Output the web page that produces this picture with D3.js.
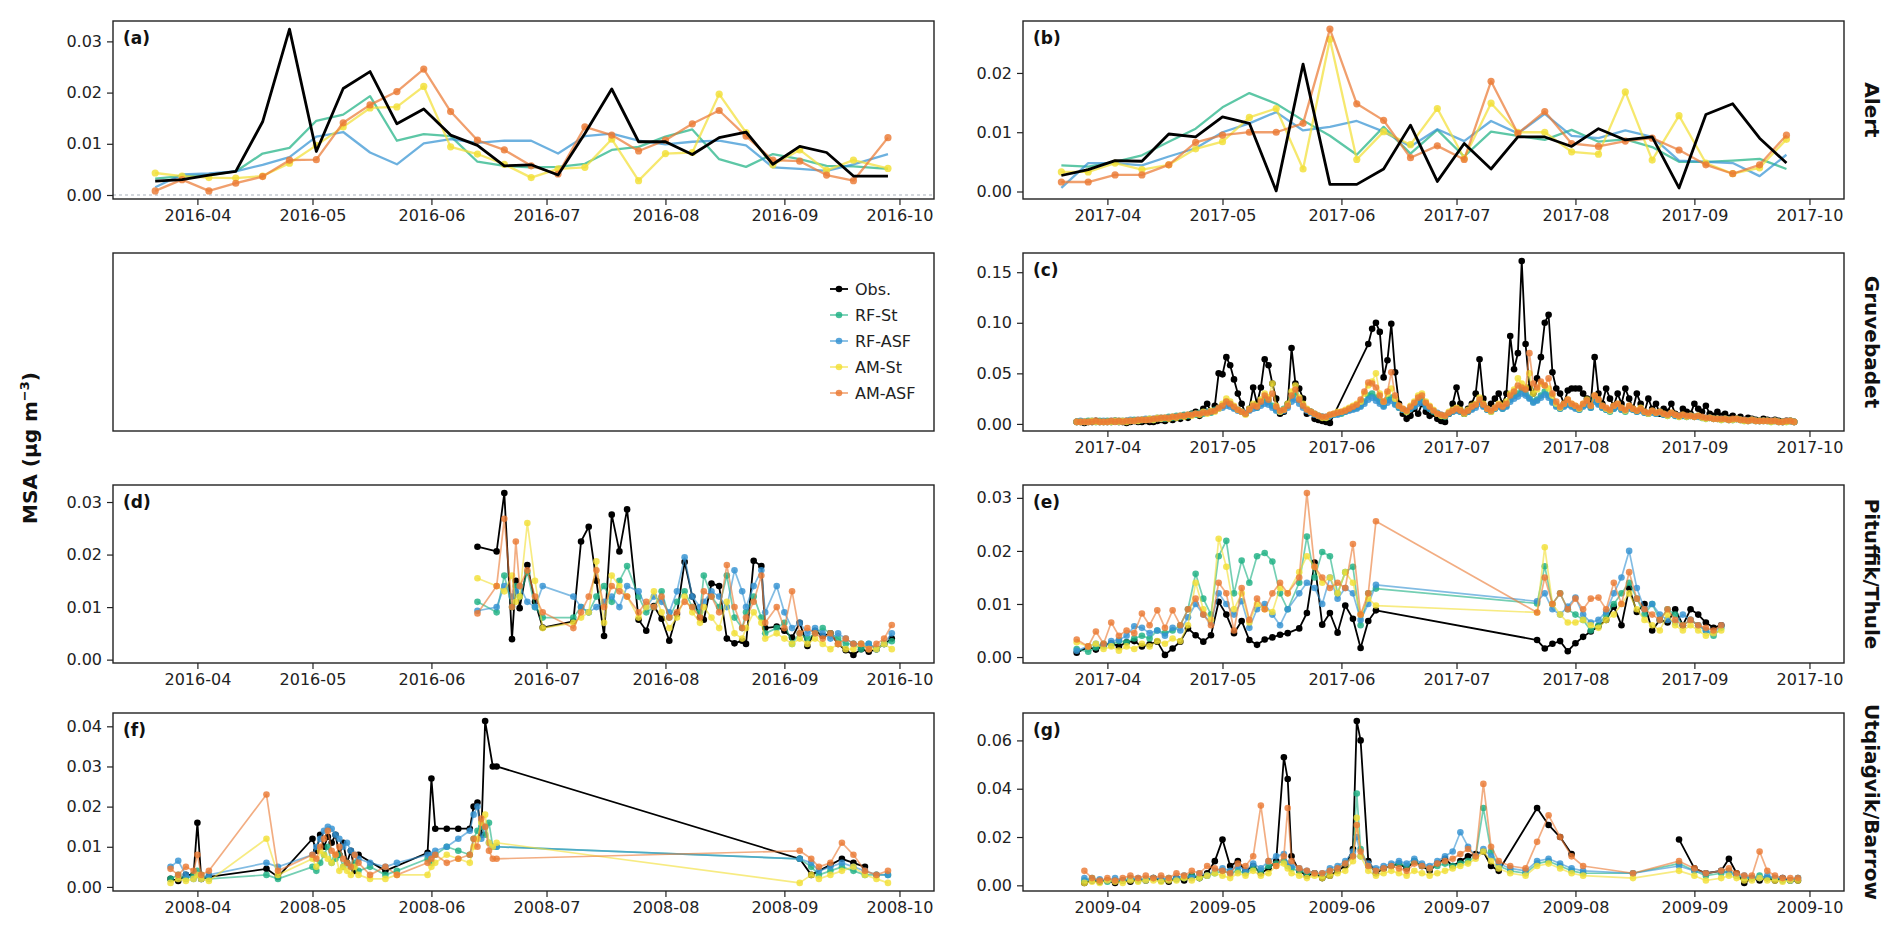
<!DOCTYPE html>
<html>
<head>
<meta charset="utf-8">
<script src="https://cdn.jsdelivr.net/npm/d3@7"></script>
<style>
  body { margin: 0; background: #fff; }
  text { font-family: "DejaVu Sans", sans-serif; }
</style>
</head>
<body>
<svg id="fig" width="1892" height="940"></svg>
<script>
// all concentrations below are in ng m-3 (1e-3 µg m-3)
const _ = null;    // no sample: dropped, neighbours are joined
const BRK = NaN;   // no sample: line is broken here

const seriesNames = ["Obs.", "RF-St", "RF-ASF", "AM-St", "AM-ASF"];
const seriesColors = ["#000000", "#1fb184", "#3593d2", "#f2df36", "#ea7a35"];
const monthTicks = [4, 5, 6, 7, 8, 9, 10];
const rowLabels = ["Alert", "Gruvebadet", "Pituffik/Thule", "Utqiaġvik/Barrow"];

// ---- (a) Alert 2016, weekly
const aDates = ["03-21","03-28","04-04","04-11","04-18","04-25","05-02","05-09","05-16","05-23",
  "05-30","06-06","06-13","06-20","06-27","07-04","07-11","07-18","07-25","08-01",
  "08-08","08-15","08-22","08-29","09-05","09-12","09-19","09-28"];
const aObs   = [2.7,3.0,3.9,4.6,14.3,32.4,8.5,20.8,24.1,13.9, 16.8,11.7,9.7,5.7,5.9,3.9,12.0,20.7,10.4,10.4, 7.9,11.2,12.3,6.0,9.5,8.3,3.7,3.7];
const aRFSt  = [3.2,3.7,3.9,4.6,8.1,9.2,14.5,15.7,19.3,10.6, 11.9,11.5,6.5,5.7,5.4,5.5,6.1,8.8,9.4,11.4, 12.8,7.0,5.5,8.0,7.0,5.7,5.6,5.1];
const aRFASF = [1.5,4.0,4.2,4.6,5.9,7.4,11.4,12.3,8.3,6.0, 10.1,10.9,10.2,10.6,10.6,8.1,11.5,12.0,10.6,9.9, 10.4,10.6,9.7,5.4,5.1,4.7,6.0,8.0];
const aAMSt  = [4.3,3.7,3.4,3.3,3.7,6.2,9.7,13.3,17.0,17.2, 21.2,9.4,8.0,6.0,3.4,5.1,5.4,10.9,2.8,8.1, 8.3,19.7,12.2,5.9,8.8,4.8,6.8,5.2];
const aAMASF = [0.8,3.0,0.8,2.3,3.6,6.8,6.9,14.1,17.6,20.2, 24.6,16.3,10.7,8.8,5.7,4.1,13.3,11.7,8.6,10.7, 13.9,16.5,11.5,6.8,6.6,3.9,2.8,11.2];

// ---- (b) Alert 2017, weekly
const bDates = ["03-20","03-27","04-03","04-10","04-17","04-24","05-01","05-08","05-15","05-22",
  "05-29","06-05","06-12","06-19","06-26","07-03","07-10","07-17","07-24","07-31",
  "08-07","08-14","08-21","08-28","09-04","09-11","09-18","09-25"];
const bObs   = [2.7,3.7,5.2,5.1,9.7,9.2,12.6,11.5,0.1,21.5, 1.2,1.2,3.8,11.2,1.7,8.1,3.8,9.2,9.2,7.6, 10.6,8.7,9.2,0.6,13.0,14.8,9.0,4.8];
const bRFSt  = [4.4,4.2,5.0,6.1,8.4,10.6,14.2,16.6,14.8,12.0, 9.4,6.2,10.9,6.4,10.4,5.9,10.1,9.4,8.7,10.4, 8.4,8.8,7.5,5.0,5.0,5.2,5.5,3.8];
const bRFASF = [0.6,4.8,4.8,4.4,5.9,7.3,10.0,11.5,13.4,10.3, 10.9,11.9,10.1,7.6,10.5,8.5,11.9,9.8,13.1,9.4, 9.0,10.3,9.2,5.2,5.0,4.8,2.6,6.2];
const bAMSt  = [3.3,3.3,4.8,3.7,4.5,7.2,8.4,12.5,14.0,3.8, 25.7,5.4,10.1,7.9,14.0,5.6,14.9,10.0,10.0,6.7, 6.3,16.8,5.3,12.8,4.8,3.0,4.0,8.8];
const bAMASF = [1.6,1.6,2.8,2.8,4.5,8.3,9.5,10.0,10.0,11.5, 27.4,14.8,12.0,5.7,7.7,5.4,18.6,9.8,13.5,8.1, 7.6,8.5,9.0,7.0,4.5,3.0,4.5,9.5];

// ---- (c) Gruvebadet 2017, daily from 03-24 to 09-27
const cFirstDay = "2017-03-24";
const cObs = [
  2,2,1,2,2,3,2,2,
  2,2,3,2,2,1,2,3,2,2, 3,2,2,3,4,3,5,4,6,5, 8,6,10,12,8,15,20,12,18,50,
  49,66,58,44,30,20,10,15,36,20, 36,64,58,40,25,10,12,20,75,40, 35,25,10,12,5,4,3,2,1,_,_,
  _,_,_,_,_,_,_,79,94,100, 91,46,63,99,51,20,10,5,8,15, 10,20,12,8,10,5,3,2,10,20,
  36,20,10,15,20,30,64,25,15,20, 25,30,20,30,87,54,70,161,79,36, 30,45,66,100,108,51,35,30,20,33, 35,
  35,35,30,25,20,66,30,20,35,25, 18,30,20,35,25,15,30,20,12,25, 15,20,10,15,12,20,10,8,15,12, 10,
  20,15,12,18,10,8,12,8,10,6, 8,5,7,4,6,5,4,3,5,4, 3,4,3,2,3,3,2];
const cRFSt = [
  2,2,2,3,2,2,3,2,
  3,2,3,3,2,3,3,4,3,4, 4,5,4,5,6,5,7,6,8,7, 9,8,10,9,11,10,12,11,14,16,
  18,22,20,16,14,12,10,14,18,16, 20,24,22,18,14,12,15,18,26,30, 24,18,14,12,10,8,7,6,8,9,10,
  10,12,14,15,16,18,22,28,30,26, 22,18,24,26,20,16,14,12,15,18, 22,24,18,15,12,10,8,7,10,12,
  14,12,10,12,15,18,22,18,14,12, 15,18,15,18,24,28,30,34,30,26, 22,24,28,32,28,22,18,15,18,20, 18,
  16,14,18,20,16,24,20,16,14,12, 15,18,14,12,16,14,12,14,11,10, 12,10,12,9,8,10,8,7,8,7, 8,
  7,8,6,5,6,5,5,4,5,4, 4,5,4,3,3,4,3,3,3,3, 2,3,2,2,2,3,2];
const cRFASF = [
  2,3,2,2,3,2,2,3,
  2,3,3,2,3,3,4,3,4,4, 5,4,5,6,5,6,6,7,7,8, 8,9,9,10,10,11,12,12,13,15,
  16,18,17,15,13,12,11,13,15,16, 18,20,19,16,13,12,13,16,22,24, 20,16,13,11,9,8,7,7,8,9,9,
  11,12,13,14,15,17,20,24,26,23, 20,17,21,23,19,16,14,13,15,17, 20,21,17,15,13,11,9,8,10,12,
  13,12,11,12,14,16,20,17,14,13, 15,17,15,17,22,25,27,30,28,25, 21,23,26,29,26,21,17,15,17,19, 17,
  15,14,17,19,16,22,19,16,14,13, 15,17,14,13,15,14,12,13,11,10, 11,10,11,9,9,10,8,8,8,7, 8,
  7,7,6,6,6,5,5,5,5,4, 4,5,4,4,3,4,3,3,3,3, 3,3,2,2,3,3,2];
const cAMSt = [
  2,2,2,2,3,2,2,2,
  2,2,3,2,3,2,3,3,3,4, 4,5,4,6,5,6,5,7,6,8, 7,9,8,10,9,12,10,13,12,15,
  20,25,22,18,14,12,9,15,20,18, 24,30,26,40,18,12,14,20,32,38, 26,20,15,12,10,8,6,6,9,10,12,
  12,14,16,18,20,22,30,38,42,50, 30,22,30,35,25,18,15,12,18,22, 28,30,22,18,14,10,8,8,12,14,
  16,14,10,14,18,20,26,20,15,12, 16,20,18,22,30,34,45,40,36,50, 30,34,40,38,35,28,20,16,20,24, 20,
  18,15,20,24,18,28,24,18,15,13, 18,20,16,13,18,15,13,16,12,10, 13,11,12,10,8,11,9,7,9,7, 8,
  7,8,6,5,6,5,5,4,5,4, 4,5,4,3,3,4,3,3,3,3, 2,3,2,2,2,3,2];
const cAMASF = [
  2,2,2,2,2,3,2,2,
  2,3,2,3,2,3,3,3,4,4, 4,4,5,5,6,6,6,7,7,8, 8,9,9,10,10,11,11,12,13,16,
  18,22,20,17,14,12,10,14,18,17, 22,28,24,30,17,13,14,18,28,34, 24,18,14,12,10,8,7,7,9,10,11,
  12,13,15,17,19,24,32,41,40,36, 28,22,32,51,28,18,15,13,17,21, 26,28,21,17,13,10,9,8,11,13,
  15,13,11,13,17,19,24,19,15,13, 16,19,17,20,28,32,38,36,34,70, 40,36,42,38,45,30,22,17,20,24, 20,
  18,16,20,23,18,28,24,18,16,14, 18,20,16,14,18,15,13,15,12,11, 13,11,12,10,9,11,9,8,9,8, 8,
  7,8,7,6,6,5,5,5,5,4, 5,5,4,4,3,4,3,3,3,3, 3,3,2,2,3,3,2];

// ---- (d) Pituffik/Thule 2016
const dDates = ["06-13","06-18","06-20","06-22","06-23","06-24","06-26","06-28","06-30","07-08",
  "07-10","07-12","07-14","07-16","07-18","07-20","07-22","07-25","07-27","07-29",
  "07-31","08-02","08-04","08-06","08-08","08-10","08-11","08-13","08-15","08-17",
  "08-19","08-21","08-22","08-24","08-26","08-27","08-30","09-01","09-03","09-05",
  "09-07","09-09","09-11","09-13","09-15","09-17","09-19","09-21","09-23","09-25",
  "09-27","09-29"];
const dObs   = [21.5,20.6,31.7,3.9,15,9.8,18,11,6.1,7.3, 22.5,25.3,15,4.5,27.6,20.6,28.6,7.6,5.5,10.2,
  7.8,3.6,8.7,18.6,12,8,7.6,14.5,14,4, 3.1,3.6,3,18.8,17.8,6,6.3,5.5,4.2,7, 2.6,5.5,4.5,5,3,1.8,0.9,2,1.5,2, 3,4];
const dRFSt  = [11,9,16,10,14,12,16.6,10,8,8, 10,9,12,14,11,15,17.8,12,9,10,
  13,8,11,13,10,9,16,12,10,16, 8,6,9,12,8,5,6,7,3,5, 4,5,6,5,4,3,3,2,3,2, 3,3.5];
const dRFASF = [9.3,10,14,12,13,14,11,10,14,12, 10,9,10,11,12,10,14,13,10,12,
  11,9,13,19.5,12,10,11,13,12,10, 17,13,10,14,17,9,14,9,6,7, 5,6,5,4,5,4,3,3,3,2, 3,5];
const dAMSt  = [15.5,14,13,16,11,12,26,15,6,7, 8,9,18.7,7,16,14,12,8,10,13,
  9,6,8,12,9,7,10,8,6,11, 5,4,6,9,7,4,5,4,3,4, 3,4,3,2,3,2,2,3,2,2, 3,2];
const dAMASF = [8.8,14,26.8,10,22.5,14,17,12,9,6, 9,12,17,10,14,13,12,9,11,10,
  12,8,9,11,10,8,13,12,9,18, 10,6,8,11,16,7,10,6,13,5, 6,5,4,5,3,4,3,3,2,3, 4,6.6];

// ---- (e) Pituffik/Thule 2017
const eDates = ["03-24","03-27","03-29","03-31","04-02","04-04","04-06","04-08","04-10","04-12",
  "04-14","04-16","04-18","04-20","04-22","04-24","04-26","04-28","04-30","05-02",
  "05-04","05-06","05-08","05-10","05-12","05-14","05-16","05-18","05-21","05-23",
  "05-25","05-27","05-29","05-31","06-02","06-04","06-06","06-08","06-10",
  "07-22","07-24","07-26","07-28","07-30","08-01","08-03","08-05","08-07","08-09",
  "08-11","08-13","08-15","08-17","08-19","08-21","08-23","08-25","08-27","08-29",
  "08-31","09-02","09-04","09-06","09-08"];
const eObs   = [0.8,1.9,1.4,2.2,2.6,2.0,2.8,3.0,2.0,2.4, 2.9,0.4,1.6,2.9,5.4,4.1,2.9,4.1,10.4,8.0,
  4.5,6.8,3.2,2.3,3.3,3.7,4.2,4.5,5.4,8.3, 17.8,6.1,8.3,4.6,9.7,7.2,1.7,6.8,8.8,
  3.2,1.6,2.5,3.0,1.1,2.6,3.8,4.8,5.8,7.0, 9.5,6.0,13.0,8.5,10.0,5.0,7.0,6.5,9.0,6.0, 9.0,8.0,6.5,5.5,6.0];
const eRFSt  = [1.5,1.0,1.8,2.5,2.2,3.0,2.8,3.5,4.0,3.5, 5.0,4.5,5.0,6.0,9.0,15.7,11.0,8.0,19.0,21.9,
  12.0,18.2,14.0,19.0,19.6,18.0,12.0,9.0,14.0,22.7, 15.0,19.8,19.0,12.0,16.0,17.0,6.0,12.0,12.9,
  10.1,17.1,10.0,12.0,9.0,8.0,7.0,5.0,6.0,8.0, 10.0,12.0,14.0,11.0,8.0,10.0,7.0,9.0,8.0,6.0, 7.0,6.0,5.0,4.0,5.5];
const eRFASF = [1.2,2.0,2.5,2.0,3.0,3.2,4.0,5.8,5.5,4.5, 5.0,4.0,5.5,5.0,7.5,10.0,8.0,6.5,12.0,10.0,
  8.0,10.5,5.5,9.0,10.0,8.0,6.0,9.0,12.0,14.0, 13.0,10.0,15.0,11.0,13.0,12.0,7.0,10.0,13.6,
  10.5,12.0,9.0,8.0,9.5,11.2,8.0,6.5,7.0,8.5, 12.0,15.0,20.0,13.0,9.0,10.0,8.0,7.0,6.5,8.0, 7.0,6.0,5.0,4.5,6.0];
const eAMSt  = [2.8,2.0,2.5,1.5,2.0,1.2,2.0,1.5,2.5,2.0, 3.0,2.5,3.5,3.0,6.0,14.0,9.0,7.0,22.3,17.0,
  9.0,12.0,6.5,10.0,9.0,8.5,13.0,12.0,16.0,19.0, 17.0,14.0,15.0,12.0,16.0,14.0,8.0,11.0,9.7,
  8.4,20.7,10.0,8.0,6.5,6.5,7.0,6.0,5.5,7.0, 8.0,10.0,12.0,9.0,7.0,6.0,5.0,8.0,6.0,5.0, 6.0,5.0,4.0,4.5,5.0];
const eAMASF = [3.3,2.0,4.8,2.5,6.5,4.0,5.0,4.5,8.2,6.0, 8.8,5.5,8.8,6.0,9.0,11.0,8.0,6.0,14.0,12.0,
  5.0,13.0,7.0,11.0,9.0,12.0,14.0,12.0,15.0,30.9, 17.0,15.0,13.0,14.0,13.0,21.3,8.0,12.0,25.6,
  8.4,15.0,10.0,12.0,9.0,11.0,9.0,11.0,11.2,9.0, 14.0,10.0,16.0,11.0,9.0,8.0,7.0,9.0,7.0,6.0, 7.0,6.0,5.5,5.0,6.0];

// ---- (f) Utqiagvik/Barrow 2008
const fDates = ["03-25","03-27","03-29","03-31","04-01","04-02","04-04","04-19","04-22","05-01",
  "05-02","05-03","05-04","05-05","05-06","05-07","05-08","05-09","05-10","05-11",
  "05-12","05-13","05-16","05-20","05-23","05-31","06-01","06-02","06-05","06-08",
  "06-11","06-12","06-13","06-14","06-15","06-16","06-17","06-18","09-05","09-08",
  "09-10","09-13","09-16","09-19","09-22","09-25","09-28"];
const fObs   = [2,1.5,3,3,16,2,2.5,4.5,2.5,12, 9,13,10,12.5,11,13,8,11,6,9,
  4,8,_,4,_,8.5,27,14.5,14.5,14.5, 14.5,20,21,13,41.3,_,30,30,7,3, _,5.5,7,6,5,_,_];
const fRFSt  = [2,3,2,3,4,3,2,3,2,5, 4,6,8,10,6,7,8,5,6,5, 6,4,5,3,4,7,6,8,10,9, 8,12,14,15,13,16,10,10,7,5, 3,4,5,4,3,3,3];
const fRFASF = [5,6.5,3,2,3,2,3,6,5,8, 10,12,14,15,14.5,13,12,10,11,9, 8,7,6,5,6,8,8,9,10,12, 14,18,20,12,15,11,10,10,7,6, 4,5,6,5,4,3,3];
const fAMSt  = [1,2,1.5,2,3,2,1.5,12,3,7, 5,9,8,7,6,8,4,5,4,3, 5,3,2,2,3,3,5,6,8,7, 6,10,12,16,18,11,10,11,1,3, 2,3,4,5,3,2,1];
const fAMASF = [4.5,3,5,4,8,3,4,23,4,8, 7,10,12,14,9,8,10,7,6,5, 8,6,3,5,3,6,7,8,6,7, 8,12,10,17,15,9,7,7,9,7, 5,6,11,8,4,3,4];

// ---- (g) Utqiagvik/Barrow 2009
const gDates = ["03-26","03-28","03-30","04-01","04-03","04-05","04-07","04-09","04-11","04-13",
  "04-15","04-17","04-19","04-21","04-23","04-25","04-27","04-29","05-01","05-03",
  "05-05","05-07","05-09","05-11","05-13","05-15","05-17","05-18","05-19","05-21",
  "05-23","05-25","05-27","05-29","05-31","06-02","06-04","06-05","06-06","06-08",
  "06-10","06-12","06-14","06-16","06-18","06-20","06-22","06-24","06-26","06-28",
  "06-30","07-02","07-04","07-06","07-08","07-10","07-12","07-15","07-19","07-22",
  "07-25","07-28","07-31","08-03","08-16","08-28","09-01","09-04","09-08","09-10",
  "09-12","09-14","09-16","09-18","09-20","09-22","09-24","09-26","09-28"];
const gObs   = [1,2,1.5,2,1,2,1.5,2.5,2,3, 2,1.5,3,2,4,3,5,10,19,8, 10,6,8,5,7,10,53,44,12,6,
  4,5,3,4,6,8,15,68,60,10, 5,7,8,9,7,10,8,6,9,11, 8,10,12,13,14,8,6,_,_,32,
  25,20,13,BRK,_,19,7,5,6,11, 5,1,3,2,3,2,3,2,2];
const gRFSt  = [2,3,2,1.5,2,2,3,2,2.5,3, 2,3,2.5,3,4,3,4,5,6,5, 6,5,7,6,8,9,10,8,7,6,
  5,5,4,6,7,9,12,38,15,8, 6,7,8,9,8,10,8,7,8,9, 8,9,10,12,32,14,8,6,5,9,
  10,8,6,5,5,9,6,4,5,6, 4,3,3,4,3,3,2,2,3];
const gRFASF = [3,2,2.5,2,3,2,2.5,3,2,3, 3,2.5,3,4,3,5,4,6,7,6, 8,6,9,7,10,12,13,9,8,7,
  6,5,5,7,8,10,14,20,12,9, 7,8,9,10,9,11,9,8,10,12, 14,22,16,12,15,12,9,7,6,10,
  11,9,7,6,5,8,6,5,6,5, 4,4,3,3,4,3,3,2,3];
const gAMSt  = [1,1.5,1,2,1.5,1,2,1.5,2,2, 1.5,2,2,3,2,3,4,5,4,3, 5,4,6,4,5,8,9,7,5,4,
  3,4,3,4,5,6,10,28,12,6, 4,5,6,5,4,6,5,4,5,6, 7,8,9,11,14,10,7,5,4,8,
  9,7,5,4,3,6,4,2,3,4, 3,2,2,3,2,2,1.5,2,2];
const gAMASF = [6,3,2,3,2,3,4,3,4,3, 4,3,5,4,6,5,8,7,6,5, 9,8,12,33,10,8,12,32,10,7,
  6,5,5,6,7,9,12,25,14,8, 6,7,8,7,6,9,8,7,9,10, 11,13,15,12,42,16,10,8,7,18,
  29,20,12,8,5,10,7,5,6,7, 5,4,4,14,6,4,3,3,3];

// ---------------------------------------------------------------------------
const parseDay = d3.timeParse("%Y-%m-%d");
const withYear = (year, list) => list.map(s => parseDay(year + "-" + s));
const cDays = d3.timeDay.range(parseDay(cFirstDay), d3.timeDay.offset(parseDay(cFirstDay), cObs.length));

const panels = [
  { tag: "(a)", col: 0, row: 0, year: 2016, dates: withYear(2016, aDates), values: [aObs, aRFSt, aRFASF, aAMSt, aAMASF], yTicks: [0, 0.01, 0.02, 0.03], weekly: true, zeroLine: true },
  { tag: "(b)", col: 1, row: 0, year: 2017, dates: withYear(2017, bDates), values: [bObs, bRFSt, bRFASF, bAMSt, bAMASF], yTicks: [0, 0.01, 0.02], weekly: true },
  { tag: "(c)", col: 1, row: 1, year: 2017, dates: cDays, values: [cObs, cRFSt, cRFASF, cAMSt, cAMASF], yTicks: [0, 0.05, 0.10, 0.15] },
  { tag: "(d)", col: 0, row: 2, year: 2016, dates: withYear(2016, dDates), values: [dObs, dRFSt, dRFASF, dAMSt, dAMASF], yTicks: [0, 0.01, 0.02, 0.03] },
  { tag: "(e)", col: 1, row: 2, year: 2017, dates: withYear(2017, eDates), values: [eObs, eRFSt, eRFASF, eAMSt, eAMASF], yTicks: [0, 0.01, 0.02, 0.03] },
  { tag: "(f)", col: 0, row: 3, year: 2008, dates: withYear(2008, fDates), values: [fObs, fRFSt, fRFASF, fAMSt, fAMASF], yTicks: [0, 0.01, 0.02, 0.03, 0.04] },
  { tag: "(g)", col: 1, row: 3, year: 2009, dates: withYear(2009, gDates), values: [gObs, gRFSt, gRFASF, gAMSt, gAMASF], yTicks: [0, 0.02, 0.04, 0.06] }
];

const colX = [113, 1023];
const rowY = [21, 253, 485, 713];
const W = 821, H = 178;
const ink = "#222";

const svg = d3.select("#fig");

function frame(g) {
  g.append("rect").attr("width", W).attr("height", H)
    .attr("fill", "none").attr("stroke", ink).attr("stroke-width", 1.4);
}

function styleAxis(sel) {
  sel.select(".domain").remove();
  sel.selectAll(".tick line").attr("stroke", ink).attr("stroke-width", 1.2);
  sel.selectAll(".tick text").attr("fill", ink).attr("font-size", 16)
    .attr("font-family", "DejaVu Sans, sans-serif");
}

panels.forEach((p, pi) => {
  const g = svg.append("g").attr("transform", `translate(${colX[p.col]},${rowY[p.row]})`);

  const x = d3.scaleTime()
    .domain([new Date(p.year, 2, 10), new Date(p.year, 9, 10)])
    .range([0, W]);

  const series = p.values.map(vals => vals.map((v, i) => ({ t: p.dates[i], v: v == null ? null : v / 1000 })));
  const finite = series.flat().filter(d => d.v != null && !isNaN(d.v)).map(d => d.v);
  const lo = d3.min(finite), hi = d3.max(finite), pad = (hi - lo) * 0.05;
  const y = d3.scaleLinear().domain([lo - pad, hi + pad]).range([H, 0]);

  g.append("g").attr("transform", `translate(0,${H})`)
    .call(d3.axisBottom(x)
      .tickValues(monthTicks.map(m => new Date(p.year, m - 1, 1)))
      .tickFormat(d3.timeFormat("%Y-%m"))
      .tickSize(6).tickPadding(5))
    .call(styleAxis);

  g.append("g")
    .call(d3.axisLeft(y).tickValues(p.yTicks).tickFormat(d3.format(".2f")).tickSize(6).tickPadding(5))
    .call(styleAxis);

  const clipId = "clip" + pi;
  g.append("clipPath").attr("id", clipId).append("rect").attr("width", W).attr("height", H);
  const plot = g.append("g").attr("clip-path", `url(#${clipId})`);

  if (p.zeroLine) {
    plot.append("line").attr("x1", 0).attr("x2", W).attr("y1", y(0)).attr("y2", y(0))
      .attr("stroke", "#a9b2bc").attr("stroke-width", 1.2).attr("stroke-dasharray", "3,3");
  }

  const line = d3.line().defined(d => !isNaN(d.v)).x(d => x(d.t)).y(d => y(d.v));

  // weekly panels: models first, obs on top; daily panels: obs first
  const order = p.weekly ? [1, 2, 3, 4, 0] : [0, 1, 2, 3, 4];
  order.forEach(si => {
    const pts = series[si].filter(d => d.v !== null);
    const isObs = si === 0;
    const col = seriesColors[si];
    plot.append("path").datum(pts)
      .attr("fill", "none").attr("stroke", col)
      .attr("stroke-width", p.weekly ? (isObs ? 2.8 : 2.3) : (isObs ? 1.8 : 1.7))
      .attr("stroke-opacity", isObs ? 1 : (p.weekly ? 0.72 : 0.62))
      .attr("stroke-linejoin", "round")
      .attr("d", line);
    const withMarkers = !p.weekly || si >= 3;
    if (withMarkers) {
      plot.append("g").selectAll("circle")
        .data(pts.filter(d => !isNaN(d.v)))
        .join("circle")
        .attr("cx", d => x(d.t)).attr("cy", d => y(d.v))
        .attr("r", p.weekly ? 3.6 : 3.3)
        .attr("fill", col)
        .attr("fill-opacity", isObs ? 1 : 0.82);
    }
  });

  frame(g);

  g.append("text").attr("x", 10).attr("y", 23)
    .attr("font-family", "Open Sans, DejaVu Sans, sans-serif")
    .attr("font-weight", 700).attr("font-size", 17).attr("fill", "#111")
    .text(p.tag);
});

// empty panel carrying the legend
const lg = svg.append("g").attr("transform", `translate(${colX[0]},${rowY[1]})`);
frame(lg);
seriesNames.forEach((name, i) => {
  const yy = 36 + i * 26;
  const row = lg.append("g").attr("transform", `translate(${W - 104},${yy})`);
  row.append("line").attr("x1", 0).attr("x2", 18).attr("y1", 0).attr("y2", 0)
    .attr("stroke", seriesColors[i]).attr("stroke-width", 1.8)
    .attr("stroke-opacity", i === 0 ? 1 : 0.62);
  row.append("circle").attr("cx", 9).attr("cy", 0).attr("r", 3.3)
    .attr("fill", seriesColors[i]).attr("fill-opacity", i === 0 ? 1 : 0.82);
  row.append("text").attr("x", 25).attr("y", 0).attr("dy", "0.35em")
    .attr("font-size", 16).attr("fill", ink).text(name);
});

// station names on the right
rowLabels.forEach((name, r) => {
  svg.append("text")
    .attr("transform", `translate(1872,${rowY[r] + H / 2}) rotate(90)`)
    .attr("text-anchor", "middle").attr("dy", "0.35em")
    .attr("font-family", "Open Sans, DejaVu Sans, sans-serif")
    .attr("font-weight", 700).attr("font-size", 20).attr("fill", "#111")
    .text(name);
});

// shared y label
const yl = svg.append("text")
  .attr("transform", "translate(30,448) rotate(-90)")
  .attr("text-anchor", "middle").attr("dy", "0.35em")
  .attr("font-family", "Open Sans, DejaVu Sans, sans-serif")
  .attr("font-weight", 700).attr("font-size", 20).attr("fill", "#111");
yl.append("tspan").text("MSA (µg m");
yl.append("tspan").attr("font-size", 13).attr("dy", -8).text("−3");
yl.append("tspan").attr("dy", 8).text(")");
</script>
</body>
</html>
